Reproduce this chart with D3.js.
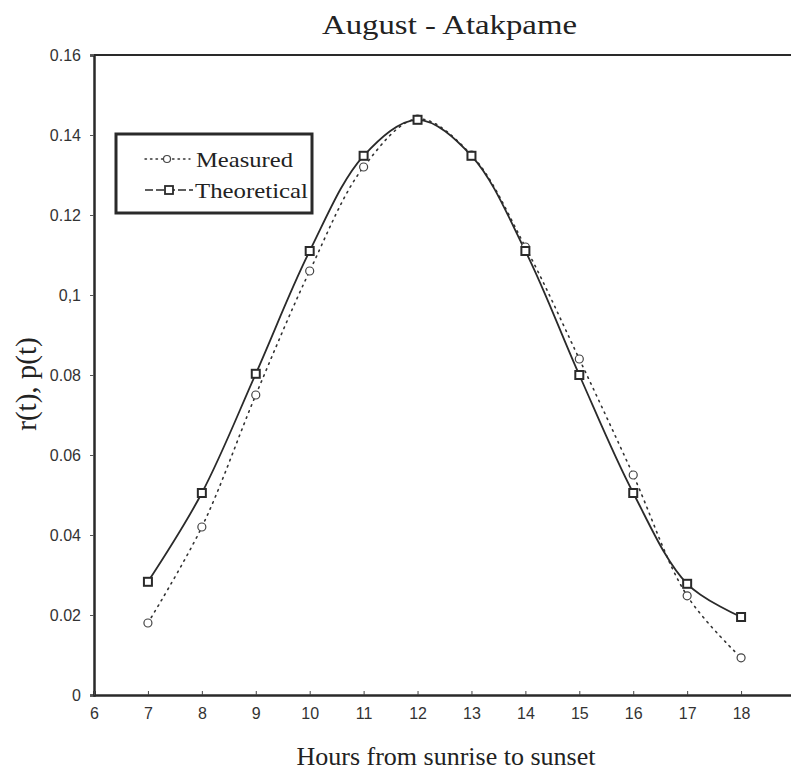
<!DOCTYPE html>
<html><head><meta charset="utf-8">
<script src="https://cdn.jsdelivr.net/npm/d3@7"></script>
<style>body{margin:0;background:#fff;}svg{display:block;}</style>
</head><body>
<script>
const hours = [7,8,9,10,11,12,13,14,15,16,17,18];
const measured = [0.018,0.042,0.075,0.106,0.132,0.144,0.135,0.112,0.084,0.055,0.0248,0.0093];
const theoretical = [0.0283,0.0505,0.0803,0.111,0.1348,0.1438,0.1348,0.111,0.080,0.0505,0.0278,0.0195];
const xTicks = [6,7,8,9,10,11,12,13,14,15,16,17,18];
const yTicks = [0,0.02,0.04,0.06,0.08,0.1,0.12,0.14,0.16];
const yTickLabels = ["0","0.02","0.04","0.06","0.08","0,1","0.12","0.14","0.16"];

const W=791,H=774;
const svg=d3.select("body").append("svg").attr("width",W).attr("height",H);
const x=d3.scaleLinear().domain([6,19]).range([94,795]);
const y=d3.scaleLinear().domain([0,0.16]).range([695,55]);
const ink="#2a2a2a";
const serif="Liberation Serif, Times New Roman, serif";
const sans="Liberation Sans, Arial, sans-serif";

svg.append("line").attr("x1",x(6)).attr("x2",W).attr("y1",y(0.16)).attr("y2",y(0.16)).attr("stroke",ink).attr("stroke-width",2);

const yAxis=d3.axisLeft(y).tickValues(yTicks).tickSize(4).tickFormat((d,i)=>yTickLabels[i]);
const gy=svg.append("g").attr("transform",`translate(${x(6)},0)`).call(yAxis);
gy.attr("font-size",null);
gy.select(".domain").attr("stroke",ink).attr("stroke-width",2.5);
gy.selectAll(".tick line").attr("stroke","#555");
gy.selectAll(".tick text").attr("x",-13).style("font-family",sans).style("font-size","16px").attr("fill","#333");

const xAxis=d3.axisBottom(x).tickValues(xTicks).tickSize(-4).tickFormat(d3.format("d"));
const gx=svg.append("g").attr("transform",`translate(0,${y(0)})`).call(xAxis);
gx.attr("font-size",null);
gx.select(".domain").attr("stroke",ink).attr("stroke-width",2.5);
gx.selectAll(".tick line").attr("stroke","#444");
gx.selectAll(".tick text").attr("y",13).attr("dy","0.71em").style("font-family",sans).style("font-size","16px").attr("fill","#333");

const lineM=d3.line().x((d,i)=>x(hours[i])).y(d=>y(d)).curve(d3.curveCatmullRom);
const lineT=d3.line().x((d,i)=>x(hours[i])).y(d=>y(d)).curve(d3.curveCatmullRom);
svg.append("path").datum(measured).attr("d",lineM).attr("fill","none").attr("stroke","#333").attr("stroke-width",1.6).attr("stroke-dasharray","1.5,5").attr("stroke-linecap","round");
svg.append("path").datum(theoretical).attr("d",lineT).attr("fill","none").attr("stroke",ink).attr("stroke-width",1.8);

svg.append("g").selectAll("circle").data(measured).join("circle")
 .attr("cx",(d,i)=>x(hours[i])).attr("cy",d=>y(d)).attr("r",4)
 .attr("fill","#fff").attr("stroke","#444").attr("stroke-width",1.2);
svg.append("g").selectAll("rect").data(theoretical).join("rect")
 .attr("x",(d,i)=>x(hours[i])-4).attr("y",d=>y(d)-4).attr("width",8).attr("height",8)
 .attr("fill","#fff").attr("stroke",ink).attr("stroke-width",2);

const lg=svg.append("g");
lg.append("rect").attr("x",116).attr("y",134).attr("width",196).attr("height",79).attr("fill","#fff").attr("stroke",ink).attr("stroke-width",3);
lg.append("line").attr("x1",145).attr("x2",190).attr("y1",159).attr("y2",159).attr("stroke","#333").attr("stroke-width",1.4).attr("stroke-dasharray","1.5,4").attr("stroke-linecap","round");
lg.append("circle").attr("cx",167).attr("cy",159).attr("r",3.5).attr("fill","#fff").attr("stroke","#444").attr("stroke-width",1.2);
lg.append("line").attr("x1",145).attr("x2",193).attr("y1",190).attr("y2",190).attr("stroke",ink).attr("stroke-width",1.5).attr("stroke-dasharray","8,3");
lg.append("rect").attr("x",165).attr("y",186).attr("width",8).attr("height",8).attr("fill","#fff").attr("stroke",ink).attr("stroke-width",1.8);
lg.append("text").attr("x",196).attr("y",167).text("Measured").attr("font-family",serif).attr("font-size",22).attr("textLength",97).attr("lengthAdjust","spacingAndGlyphs").attr("fill","#222");
lg.append("text").attr("x",195).attr("y",198).text("Theoretical").attr("font-family",serif).attr("font-size",22).attr("textLength",113).attr("lengthAdjust","spacingAndGlyphs").attr("fill","#222");

svg.append("text").attr("x",322).attr("y",34).text("August - Atakpame").attr("font-family",serif).attr("font-size",28).attr("textLength",255).attr("lengthAdjust","spacingAndGlyphs").attr("fill","#222");
svg.append("text").attr("x",446).attr("y",765).attr("text-anchor","middle").text("Hours from sunrise to sunset").attr("font-family",serif).attr("font-size",26).attr("fill","#222");
svg.append("text").attr("transform","translate(36,384) rotate(-90)").attr("text-anchor","middle").text("r(t), p(t)").attr("font-family",serif).attr("font-size",29).attr("fill","#222");
</script>
</body></html>
